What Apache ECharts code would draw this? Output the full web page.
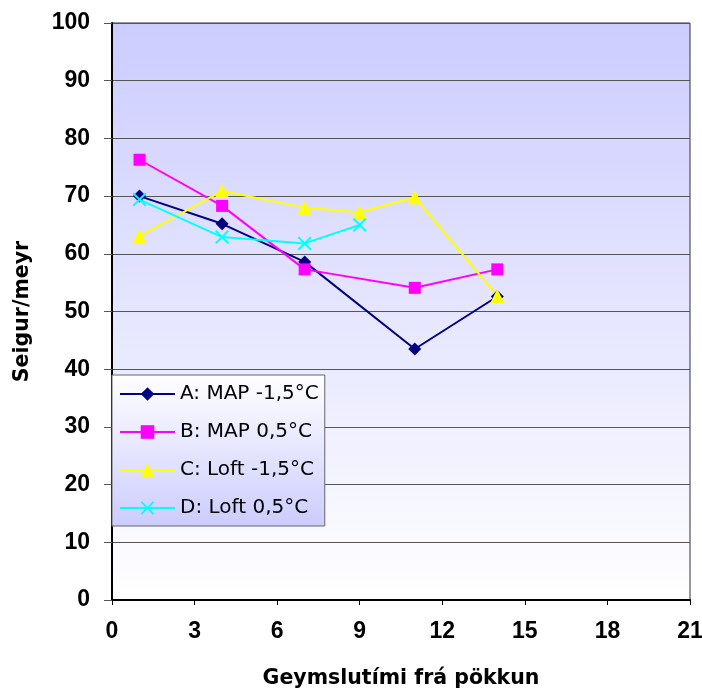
<!DOCTYPE html>
<html>
<head>
<meta charset="utf-8">
<script src="https://cdn.jsdelivr.net/npm/echarts@6/dist/echarts.min.js"></script>
<style>
  html, body { margin: 0; padding: 0; background: #fff; }
  #chart { width: 702px; height: 688px; }
</style>
</head>
<body>
<div id="chart"></div>
<script>
// Storage days after packing vs. measured value, four storage treatments
const seriesNames = ['A: MAP -1,5°C', 'B: MAP 0,5°C', 'C: Loft -1,5°C', 'D: Loft 0,5°C'];
const daysA = [1, 4, 7, 11, 14];
const valuesA = [70.0, 65.2, 58.6, 43.5, 52.6];
const daysB = [1, 4, 7, 11, 14];
const valuesB = [76.3, 68.3, 57.3, 54.1, 57.3];
const daysC = [1, 4, 7, 9, 11, 14];
const valuesC = [63.0, 70.9, 68.0, 67.2, 69.8, 52.7];
const daysD = [1, 4, 7, 9];
const valuesD = [69.4, 62.9, 61.8, 65.0];

const xTicks = [0, 3, 6, 9, 12, 15, 18, 21];
const yTicks = [0, 10, 20, 30, 40, 50, 60, 70, 80, 90, 100];

const colors = ['#000080', '#FF00FF', '#FFFF00', '#00FFFF'];
const crossPath = 'path://M0,1L1,0L5,4L9,0L10,1L6,5L10,9L9,10L5,6L1,10L0,9L4,5Z';

function pairs(xs, ys) { return xs.map((x, i) => [x, ys[i]]); }

const chart = echarts.init(document.getElementById('chart'), null, { renderer: 'canvas' });

const tickFont = { fontFamily: '"Liberation Sans", Arial, sans-serif', fontWeight: 'bold', fontSize: 23, color: '#000' };
const titleFont = { fontFamily: '"DejaVu Sans", sans-serif', fontWeight: 'bold', fontSize: 20.5, color: '#000' };

const makeSeries = (name, data, color, symbol, size) => ({
  name, type: 'line', data, symbol, symbolSize: size,
  lineStyle: { color, width: 2 },
  itemStyle: { color },
  emphasis: { disabled: true },
  animation: false
});

chart.setOption({
  animation: false,
  grid: {
    left: 112, top: 23, right: 12, bottom: 88,
    outerBoundsMode: 'none',
    containLabel: false,
    show: true,
    borderColor: '#333', borderWidth: 1,
    backgroundColor: new echarts.graphic.LinearGradient(0, 0, 0, 1, [
      { offset: 0, color: '#CCCCFF' },
      { offset: 1, color: '#FFFFFF' }
    ])
  },
  legend: {
    orient: 'vertical',
    left: 112, top: 375,
    padding: [9, 6, 8, 7],
    itemWidth: 55, itemHeight: 17, itemGap: 18,
    backgroundColor: new echarts.graphic.LinearGradient(0, 0, 0, 1, [
      { offset: 0, color: '#FFFFFF' },
      { offset: 1, color: '#CCCCFF' }
    ]),
    borderColor: '#666', borderWidth: 1,
    textStyle: { fontFamily: '"DejaVu Sans", sans-serif', fontSize: 20, color: '#000' },
    data: seriesNames
  },
  xAxis: {
    type: 'value', min: 0, max: 21, interval: 3,
    name: 'Geymslutími frá pökkun',
    nameLocation: 'middle', nameGap: 68,
    nameTextStyle: titleFont,
    axisLine: { show: true, onZero: false, lineStyle: { color: '#000', width: 2 } },
    axisTick: { show: true, length: 5, lineStyle: { color: '#000' } },
    axisLabel: Object.assign({ margin: 20, formatter: v => xTicks.includes(v) ? String(v) : '' }, tickFont),
    splitLine: { show: false }
  },
  yAxis: {
    type: 'value', min: 0, max: 100, interval: 10,
    name: 'Seigur/meyr',
    nameLocation: 'middle', nameGap: 79,
    nameTextStyle: titleFont,
    axisLine: { show: true, lineStyle: { color: '#000', width: 2 } },
    axisTick: { show: true, length: 8, lineStyle: { color: '#555' } },
    axisLabel: Object.assign({ margin: 22, formatter: v => yTicks.includes(v) ? String(v) : '' }, tickFont),
    splitLine: { show: true, lineStyle: { color: '#555', width: 1 } }
  },
  series: [
    makeSeries(seriesNames[0], pairs(daysA, valuesA), colors[0], 'diamond', 13),
    makeSeries(seriesNames[1], pairs(daysB, valuesB), colors[1], 'rect', 12),
    makeSeries(seriesNames[2], pairs(daysC, valuesC), colors[2], 'triangle', 14),
    makeSeries(seriesNames[3], pairs(daysD, valuesD), colors[3], crossPath, 14)
  ]
});
</script>
</body>
</html>
